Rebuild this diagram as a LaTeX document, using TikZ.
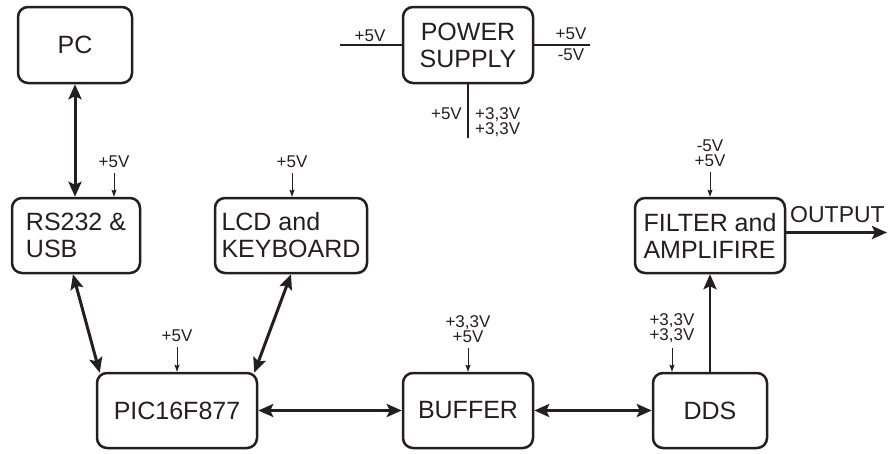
\documentclass[tikz,border=0pt]{standalone}
\usepackage{fontspec}
\setmainfont{Liberation Sans}
\usetikzlibrary{arrows.meta,calc}
\definecolor{ink}{HTML}{231F20}
\begin{document}
\begin{tikzpicture}[x=1pt,y=-1pt,
  blk/.style={draw=ink, line width=2.5pt, rounded corners=10pt, minimum height=75pt,
    inner sep=0pt, font=\fontsize{25}{27}\selectfont, text=ink},
  bigtip/.tip={Stealth[length=15pt,width=13pt,inset=3pt]},
  big/.style={draw=ink, line width=3pt, bigtip-bigtip},
  oneway/.style={draw=ink, line width=2.8pt, -bigtip},
  sup/.style={draw=ink, line width=1pt, -{Stealth[length=7pt,width=5pt,inset=1pt]}},
  rail/.style={draw=ink, line width=1.1pt},
  lbl/.style={font=\fontsize{17}{15.5}\selectfont, text=ink, inner sep=1pt, align=center},
]
\useasboundingbox (0,0) rectangle (888,453);

% blocks
\node[blk, minimum width=114pt, minimum height=76pt] (pc) at (75,45) {PC};
\node[blk, minimum width=130pt, minimum height=76pt, align=center] (ps) at (468,45) {POWER\\SUPPLY};
\node[blk, minimum width=128pt, align=left] (rs) at (76,235.5) {RS232 \&\\USB};
\node[blk, minimum width=152pt, align=left] (lcd) at (291,235.5) {LCD and\\KEYBOARD};
\node[blk, minimum width=150pt, align=left] (flt) at (710,235.5) {FILTER and\\AMPLIFIRE};
\node[blk, minimum width=160pt] (pic) at (177,410.5) {PIC16F877};
\node[blk, minimum width=130pt] (buf) at (468,410.5) {BUFFER};
\node[blk, minimum width=114pt] (dds) at (710,410.5) {DDS};

% data connectors
\draw[big] (pc.south) -- (pc.south |- rs.north);
\draw[big] ([xshift=-3pt]rs.south) -- ([xshift=4pt,yshift=-1pt]pic.north west);
\draw[big] (lcd.south) -- ([xshift=-4pt,yshift=-1pt]pic.north east);
\draw[big] (pic.east) -- (buf.west);
\draw[big] (buf.east) -- (dds.west);
\draw[oneway] (dds.north) -- (flt.south);
\coordinate (out) at (887,232.5);
\draw[oneway] ([yshift=3pt]flt.east) -- (out);
\node[anchor=base west, inner sep=0pt, font=\fontsize{23}{23}\selectfont, text=ink] (outl) at (790,222) {OUTPUT};

% power supply rails
\coordinate (pin) at (340,45);
\coordinate (pout) at (590,45);
\coordinate (pdown) at (468,138);
\draw[rail] (pin) -- (ps.west);
\draw[rail] (ps.east) -- (pout);
\draw[rail] (ps.south) -- (pdown);
\node[lbl, anchor=south] (pl1) at (370,43) {+5V};
\node[lbl, anchor=south] (pr1) at (571,41) {+5V};
\node[lbl, anchor=north] (pr2) at (571,48) {-5V};
\node[lbl, anchor=south east] (pb1) at (463,121) {+5V};
\node[lbl, anchor=south west, align=left] (pb2) at (474,138) {+3,3V\\+3,3V};

% supply arrows
\node[lbl, anchor=south] (srs) at (114,169) {+5V};
\draw[sup] ([yshift=-4pt]srs.south) -- (srs.south |- rs.north);
\node[lbl, anchor=south] (slcd) at (292,169) {+5V};
\draw[sup] ([yshift=-4pt]slcd.south) -- (slcd.south |- lcd.north);
\node[lbl, anchor=south] (spic) at (177,343) {+5V};
\draw[sup] ([yshift=-4pt]spic.south) -- (spic.south |- pic.north);
\node[lbl, anchor=south] (sbuf) at (468,344) {+3,3V\\+5V};
\draw[sup] ([yshift=-4pt]sbuf.south) -- (sbuf.south |- buf.north);
\node[lbl, anchor=south] (sdds) at (672,344) {+3,3V\\+3,3V};
\draw[sup] ([yshift=-4pt]sdds.south) -- (sdds.south |- dds.north);
\node[lbl, anchor=south] (sflt) at (710,168) {-5V\\+5V};
\draw[sup] ([yshift=-4pt]sflt.south) -- (sflt.south |- flt.north);
\end{tikzpicture}
\end{document}
